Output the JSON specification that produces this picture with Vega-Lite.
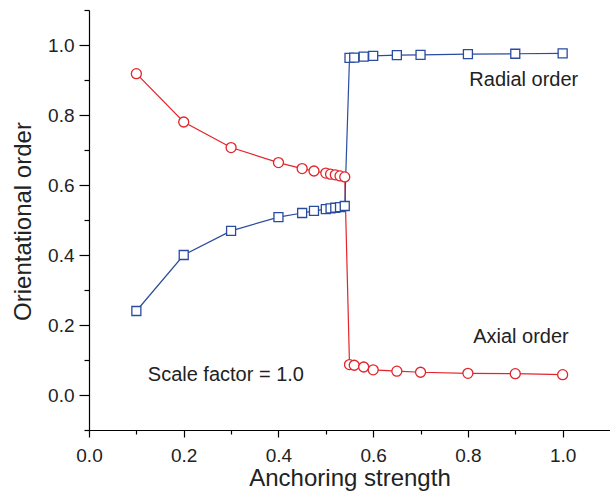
{
  "$schema": "https://vega.github.io/schema/vega-lite/v6.json",
  "width": 521,
  "height": 420,
  "autosize": {"type": "none"},
  "padding": {"left": 89, "top": 10, "right": 0, "bottom": 61},
  "background": "white",
  "config": {
    "view": {"stroke": null},
    "font": "Liberation Sans",
    "axis": {
      "grid": false,
      "domainColor": "black",
      "domainWidth": 1.2,
      "tickColor": "black",
      "tickWidth": 1.2,
      "labelColor": "#222222",
      "titleColor": "#222222",
      "labelFont": "Liberation Sans",
      "titleFont": "Liberation Sans",
      "labelFontSize": 19,
      "titleFontSize": 24,
      "titleFontWeight": "normal",
      "labelFlush": false,
      "labelOverlap": false
    }
  },
  "resolve": {"axis": {"x": "independent", "y": "independent"}},
  "datasets": {
    "series": [
      {"s": "Axial", "x": 0.1, "y": 0.918},
      {"s": "Axial", "x": 0.2, "y": 0.78},
      {"s": "Axial", "x": 0.3, "y": 0.707},
      {"s": "Axial", "x": 0.4, "y": 0.664},
      {"s": "Axial", "x": 0.45, "y": 0.647},
      {"s": "Axial", "x": 0.475, "y": 0.64},
      {"s": "Axial", "x": 0.5, "y": 0.634},
      {"s": "Axial", "x": 0.51, "y": 0.631},
      {"s": "Axial", "x": 0.52, "y": 0.629},
      {"s": "Axial", "x": 0.53, "y": 0.626},
      {"s": "Axial", "x": 0.54, "y": 0.623},
      {"s": "Axial", "x": 0.55, "y": 0.087},
      {"s": "Axial", "x": 0.56, "y": 0.085},
      {"s": "Axial", "x": 0.58, "y": 0.08},
      {"s": "Axial", "x": 0.6, "y": 0.072},
      {"s": "Axial", "x": 0.65, "y": 0.068},
      {"s": "Axial", "x": 0.7, "y": 0.065},
      {"s": "Axial", "x": 0.8, "y": 0.062},
      {"s": "Axial", "x": 0.9, "y": 0.061},
      {"s": "Axial", "x": 1.0, "y": 0.058},
      {"s": "Radial", "x": 0.1, "y": 0.24},
      {"s": "Radial", "x": 0.2, "y": 0.4},
      {"s": "Radial", "x": 0.3, "y": 0.469},
      {"s": "Radial", "x": 0.4, "y": 0.508},
      {"s": "Radial", "x": 0.45, "y": 0.52},
      {"s": "Radial", "x": 0.475, "y": 0.526},
      {"s": "Radial", "x": 0.5, "y": 0.531},
      {"s": "Radial", "x": 0.51, "y": 0.533},
      {"s": "Radial", "x": 0.52, "y": 0.535},
      {"s": "Radial", "x": 0.53, "y": 0.537},
      {"s": "Radial", "x": 0.54, "y": 0.54},
      {"s": "Radial", "x": 0.55, "y": 0.963},
      {"s": "Radial", "x": 0.56, "y": 0.964},
      {"s": "Radial", "x": 0.58, "y": 0.967},
      {"s": "Radial", "x": 0.6, "y": 0.969},
      {"s": "Radial", "x": 0.65, "y": 0.971},
      {"s": "Radial", "x": 0.7, "y": 0.972},
      {"s": "Radial", "x": 0.8, "y": 0.974},
      {"s": "Radial", "x": 0.9, "y": 0.975},
      {"s": "Radial", "x": 1.0, "y": 0.976}
    ],
    "notes": [
      {"label": "Radial order", "x": 0.918, "y": 0.9},
      {"label": "Axial order", "x": 0.912, "y": 0.166},
      {"label": "Scale factor = 1.0", "x": 0.289, "y": 0.057}
    ]
  },
  "layer": [
    {
      "data": {"name": "series"},
      "mark": {"type": "line", "strokeWidth": 1.2},
      "encoding": {
        "x": {
          "field": "x", "type": "quantitative",
          "scale": {"domain": [0, 1.1], "nice": false, "zero": false},
          "axis": {
            "orient": "bottom",
            "title": "Anchoring strength",
            "values": [0, 0.2, 0.4, 0.6, 0.8, 1.0],
            "format": ".1f",
            "tickSize": 7,
            "labelPadding": 9,
            "titleY": 55,
            "titleBaseline": "alphabetic"
          }
        },
        "y": {
          "field": "y", "type": "quantitative",
          "scale": {"domain": [-0.1, 1.1], "nice": false, "zero": false},
          "axis": {
            "orient": "left",
            "title": "Orientational order",
            "values": [0, 0.2, 0.4, 0.6, 0.8, 1.0],
            "format": ".1f",
            "tickSize": 10,
            "labelPadding": 5,
            "titleX": -66,
            "titleY": 211,
            "titleBaseline": "middle",
            "titleAlign": "center"
          }
        },
        "stroke": {
          "field": "s", "type": "nominal",
          "scale": {"domain": ["Radial", "Axial"], "range": ["#2a4c9e", "#e3242b"]},
          "legend": null
        },
        "detail": {"field": "s"}
      }
    },
    {
      "data": {"name": "series"},
      "mark": {"type": "point", "fill": "white", "filled": false, "strokeWidth": 1.3, "opacity": 1, "fillOpacity": 1},
      "encoding": {
        "x": {
          "field": "x", "type": "quantitative",
          "axis": {
            "orient": "bottom",
            "title": null,
            "values": [0.1, 0.3, 0.5, 0.7, 0.9],
            "labels": false,
            "domain": false,
            "tickSize": 4
          }
        },
        "y": {
          "field": "y", "type": "quantitative",
          "axis": {
            "orient": "left",
            "title": null,
            "values": [-0.1, 0.1, 0.3, 0.5, 0.7, 0.9, 1.1],
            "labels": false,
            "domain": false,
            "tickSize": 5
          }
        },
        "stroke": {"field": "s", "type": "nominal", "legend": null},
        "shape": {
          "field": "s", "type": "nominal",
          "scale": {"domain": ["Radial", "Axial"], "range": ["square", "circle"]},
          "legend": null
        },
        "size": {
          "field": "s", "type": "nominal",
          "scale": {"domain": ["Radial", "Axial"], "range": [81, 100]},
          "legend": null
        }
      }
    },
    {
      "data": {"name": "notes"},
      "mark": {"type": "text", "font": "Liberation Sans", "fontSize": 20, "color": "#222222", "align": "center", "baseline": "middle"},
      "encoding": {
        "x": {"field": "x", "type": "quantitative", "axis": null},
        "y": {"field": "y", "type": "quantitative", "axis": null},
        "text": {"field": "label"}
      }
    }
  ]
}
